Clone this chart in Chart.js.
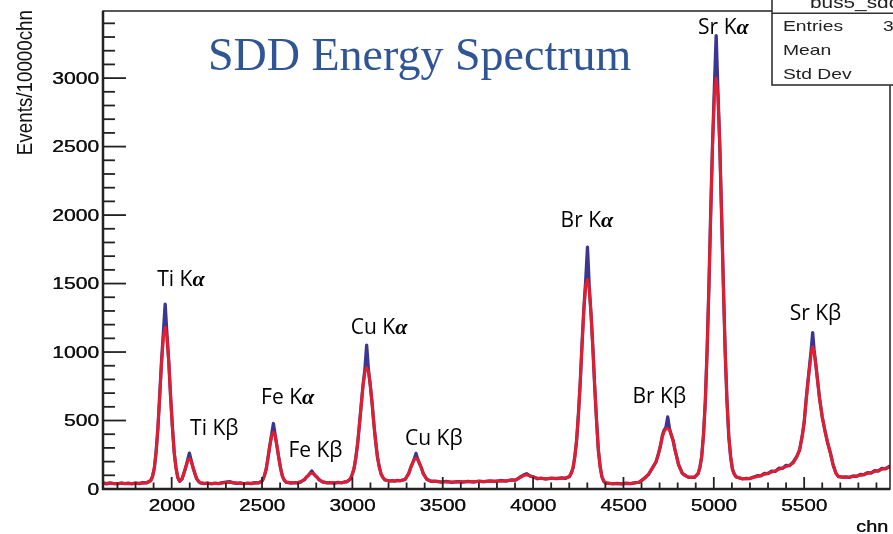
<!DOCTYPE html>
<html>
<head>
<meta charset="utf-8">
<script src="https://cdn.jsdelivr.net/npm/chart.js"></script>
<style>
  html, body { margin: 0; padding: 0; background: #fff; }
  #wrap { width: 893px; height: 534px; }
</style>
</head>
<body>
<div id="wrap"><canvas id="spectrum" width="893" height="534"></canvas></div>
<script>
// ========== DATA ==========
// channel positions (bins, denser around the peaks)
const chn = [
  1620, 1640, 1660, 1680, 1700, 1720, 1740, 1760, 1780, 1800, 1820, 1840, 1860, 1874,
  1884, 1894, 1904, 1914, 1924, 1934, 1944, 1954, 1964, 1974, 1984, 1994, 2004, 2014, 2024, 2034, 2044,
  2058, 2068, 2078, 2088, 2098, 2108, 2118, 2128, 2138, 2148, 2158,
  2180, 2200, 2220, 2240, 2260, 2280, 2300, 2320, 2340, 2360, 2380, 2400, 2420, 2440, 2460, 2480,
  2493, 2503, 2513, 2523, 2533, 2543, 2553, 2563, 2573, 2583, 2593, 2603, 2613, 2623, 2633, 2645, 2660, 2680, 2695,
  2705, 2715, 2725, 2735, 2745, 2755, 2765, 2775, 2785, 2795, 2805, 2815, 2825, 2835, 2845,
  2860, 2880, 2900, 2920, 2940, 2955, 2968,
  2979, 2989, 2999, 3009, 3019, 3029, 3039, 3049, 3059, 3069, 3079, 3089, 3099, 3109, 3119, 3129, 3139, 3149, 3159, 3169, 3179, 3189,
  3205, 3220, 3235, 3250, 3265,
  3282, 3292, 3302, 3312, 3322, 3332, 3342, 3352, 3362, 3372, 3382, 3392, 3402, 3412, 3422, 3435,
  3460, 3490, 3520, 3550, 3580, 3610, 3640, 3670, 3700, 3730, 3760, 3790, 3820, 3850, 3880,
  3904, 3924, 3944, 3964, 3984, 4004, 4024, 4044, 4070, 4100, 4130, 4160, 4180,
  4191, 4201, 4211, 4221, 4231, 4241, 4251, 4261, 4271, 4281, 4291, 4301, 4311, 4321, 4331, 4341, 4351, 4361, 4371, 4381, 4391, 4401,
  4415, 4440, 4465, 4490, 4515, 4540, 4565, 4585,
  4600, 4620, 4640, 4660, 4680, 4695, 4705, 4715, 4725, 4735, 4745, 4755, 4765, 4775, 4785, 4795, 4805, 4815, 4825, 4840, 4860, 4880, 4893,
  4903, 4913, 4923, 4933, 4943, 4953, 4963, 4973, 4983, 4993, 5003, 5013, 5023, 5033, 5043, 5053, 5063, 5073, 5083, 5093, 5103, 5113, 5123,
  5140, 5160, 5180, 5200, 5220, 5240, 5260, 5280, 5300, 5320, 5340, 5360, 5380, 5400, 5420, 5440, 5460, 5475,
  5490, 5500, 5510, 5520, 5530, 5540, 5547, 5555, 5565, 5575, 5585, 5600, 5615, 5630, 5645, 5660, 5675, 5690,
  5710, 5730, 5750, 5770, 5790, 5810, 5830, 5850, 5870, 5890, 5910, 5930, 5950, 5975
];

// measured histogram (blue)
const counts = [
  44, 38, 45, 40, 37, 44, 39, 42, 38, 45, 40, 46, 44, 55,
  62, 92, 150, 275, 445, 690, 935, 1140, 1350, 1130, 930, 675, 455, 265, 155, 82, 56,
  74, 118, 158, 210, 262, 208, 156, 116, 75, 58, 44,
  40, 44, 37, 43, 39, 46, 50, 54, 45, 41, 45, 38, 43, 40, 46, 44,
  53, 62, 97, 144, 228, 318, 395, 478, 390, 308, 226, 150, 92, 66, 49, 48, 43, 47, 44,
  50, 51, 62, 68, 87, 97, 114, 132, 113, 96, 86, 68, 61, 51, 50,
  44, 47, 43, 48, 45, 51, 52,
  63, 73, 106, 147, 230, 330, 472, 615, 760, 870, 1050, 870, 758, 630, 472, 345, 230, 161, 108, 85, 67, 64,
  58, 62, 58, 63, 60,
  67, 70, 93, 113, 154, 185, 218, 260, 216, 183, 154, 113, 92, 70, 65, 56,
  57, 50, 55, 49, 54, 51, 56, 51, 57, 53, 59, 55, 62, 58, 66,
  65, 84, 100, 112, 94, 88, 75, 79, 73, 80, 76, 82, 78,
  86, 90, 116, 152, 238, 356, 552, 780, 1065, 1320, 1520, 1766, 1470, 1270, 1028, 745, 505, 285, 165, 88, 58, 43,
  43, 38, 41, 37, 42, 39, 46, 48,
  60, 84, 108, 155, 196, 265, 316, 388, 430, 450, 526, 440, 392, 355, 286, 234, 176, 148, 115, 101, 85, 87, 84,
  100, 111, 158, 236, 398, 638, 1018, 1480, 2030, 2520, 2920, 3310, 2900, 2512, 2005, 1490, 998, 642, 380, 238, 145, 110, 88,
  82, 73, 78, 76, 88, 97, 96, 114, 112, 131, 128, 152, 150, 173, 170, 198, 240, 285,
  395, 485, 640, 775, 900, 1030, 1142, 1015, 905, 785, 665, 525, 425, 335, 265, 176, 118, 90,
  86, 89, 84, 95, 92, 106, 104, 119, 116, 134, 131, 150, 147, 168
];

// fitted curve (red)
const fitCounts = [
  42, 42, 41, 41, 41, 40, 40, 40, 41, 41, 42, 43, 46, 52,
  59, 90, 155, 271, 450, 682, 924, 1109, 1180, 1109, 924, 682, 450, 271, 150, 85, 58,
  77, 113, 161, 204, 222, 204, 161, 113, 77, 56, 46,
  42, 41, 40, 40, 41, 43, 48, 50, 48, 44, 42, 41, 41, 42, 43, 46,
  51, 65, 94, 147, 224, 313, 386, 414, 386, 313, 224, 147, 94, 65, 51, 46, 45, 45, 46,
  48, 53, 60, 70, 84, 99, 111, 115, 111, 99, 84, 70, 60, 53, 48,
  46, 45, 45, 46, 47, 49, 54,
  61, 75, 103, 150, 226, 333, 468, 617, 753, 851, 886, 859, 761, 625, 476, 341, 234, 158, 111, 83, 69, 62,
  60, 59, 60, 61, 62,
  65, 72, 90, 116, 151, 187, 214, 225, 214, 187, 151, 116, 90, 72, 63, 58,
  55, 53, 52, 52, 52, 53, 53, 54, 54, 55, 56, 57, 59, 61, 63,
  68, 80, 96, 104, 96, 85, 78, 76, 76, 77, 78, 79, 80,
  84, 93, 113, 156, 233, 360, 547, 787, 1056, 1308, 1489, 1530, 1453, 1272, 1020, 751, 500, 290, 160, 90, 56, 45,
  41, 40, 39, 39, 40, 41, 43, 50,
  63, 80, 112, 150, 200, 260, 320, 380, 420, 438, 443, 430, 395, 350, 290, 230, 180, 145, 118, 98, 88, 84, 87,
  97, 114, 155, 240, 392, 643, 1011, 1487, 2018, 2514, 2874, 3000, 2867, 2507, 2011, 1480, 1004, 636, 385, 233, 148, 107, 90,
  80, 76, 75, 79, 84, 91, 99, 107, 115, 123, 132, 143, 154, 164, 175, 190, 235, 290,
  390, 490, 630, 770, 890, 1000, 1037, 1000, 900, 780, 660, 530, 425, 340, 260, 180, 115, 92,
  88, 86, 88, 91, 95, 101, 107, 113, 120, 127, 135, 143, 151, 160
];

// axis ticks
const xMajorTicks = [2000, 2500, 3000, 3500, 4000, 4500, 5000, 5500];
const xMinorTicks = [1700, 1800, 1900, 2100, 2200, 2300, 2400, 2600, 2700, 2800, 2900, 3100, 3200, 3300, 3400,
  3600, 3700, 3800, 3900, 4100, 4200, 4300, 4400, 4600, 4700, 4800, 4900, 5100, 5200, 5300, 5400, 5600, 5700, 5800, 5900];
const yMajorTicks = [0, 500, 1000, 1500, 2000, 2500, 3000];
const yMinorTicks = [100, 200, 300, 400, 600, 700, 800, 900, 1100, 1200, 1300, 1400, 1600, 1700, 1800, 1900,
  2100, 2200, 2300, 2400, 2600, 2700, 2800, 2900, 3100, 3200, 3300, 3400];

// peak annotations (anchored in chn / counts)
const peakLabels = ["Ti Kα", "Ti Kβ", "Fe Kα", "Fe Kβ", "Cu Kα", "Cu Kβ", "Br Kα", "Br Kβ", "Sr Kα", "Sr Kβ"];
const labelChn = [1920, 2102, 2495, 2646, 2991, 3291, 4152, 4550, 4913, 5420];
const labelCounts = [1479, 392, 618, 234, 1134, 319, 1912, 628, 3319, 1231];

// ========== HELPERS ==========
function stretchText(ctx, str, x, y, align, sx) {
  ctx.save();
  ctx.translate(x, y);
  ctx.scale(sx, 1);
  ctx.textAlign = align;
  ctx.fillText(str, 0, 0);
  ctx.restore();
}

function line(ctx, x1, y1, x2, y2) {
  ctx.beginPath();
  ctx.moveTo(x1, y1);
  ctx.lineTo(x2, y2);
  ctx.stroke();
}

// ROOT-style frame, inward ticks, labels, stats box, title and peak names
const rootFrame = {
  id: "rootFrame",
  afterDraw(chart) {
    const { ctx, chartArea: a, scales } = chart;
    const x = scales.x, y = scales.y;
    ctx.save();
    ctx.strokeStyle = "#222";
    ctx.fillStyle = "#111";

    // frame
    ctx.lineWidth = 1.5;
    ctx.strokeRect(a.left, a.top, a.right - a.left, a.bottom - a.top);
    ctx.lineWidth = 2.5;
    line(ctx, a.left, a.top, a.left, a.bottom + 1);
    line(ctx, a.left - 1, a.bottom, a.right, a.bottom);

    // y ticks
    ctx.lineWidth = 1.8;
    yMinorTicks.forEach((v) => {
      const py = y.getPixelForValue(v);
      line(ctx, a.left, py, a.left + 12, py);
    });
    ctx.font = '16.5px "Liberation Sans"';
    yMajorTicks.forEach((v) => {
      const py = y.getPixelForValue(v);
      line(ctx, a.left, py, a.left + 23, py);
      stretchText(ctx, String(v), a.left - 4, py + 5.8, "right", 1.28);
      stretchText(ctx, String(v), a.left - 3.6, py + 5.8, "right", 1.28);
    });

    // x ticks
    xMinorTicks.forEach((v) => {
      const px = x.getPixelForValue(v);
      line(ctx, px, a.bottom, px, a.bottom - 6.5);
    });
    xMajorTicks.forEach((v) => {
      const px = x.getPixelForValue(v);
      line(ctx, px, a.bottom, px, a.bottom - 12);
      stretchText(ctx, String(v), px, 510.9, "center", 1.26);
      stretchText(ctx, String(v), px + 0.4, 510.9, "center", 1.26);
    });

    // axis titles
    stretchText(ctx, "chn", 888, 531.5, "right", 1.2);
    stretchText(ctx, "chn", 888.4, 531.5, "right", 1.2);
    ctx.save();
    ctx.font = '18.8px "Liberation Sans"';
    ctx.translate(31.5, 10);
    ctx.rotate(-Math.PI / 2);
    ctx.scale(1, 1.2);
    ctx.textAlign = "right";
    ctx.fillText("Events/10000chn", 0, 0);
    ctx.restore();

    // stats box
    ctx.fillStyle = "#fff";
    ctx.fillRect(772, -2, 130, 87);
    ctx.lineWidth = 1.6;
    ctx.strokeStyle = "#333";
    ctx.strokeRect(772, -2, 130, 87);
    line(ctx, 772, 13.3, 893, 13.3);
    ctx.fillStyle = "#222";
    ctx.font = '16px "Liberation Sans"';
    stretchText(ctx, "bus5_sdd", 810, 8, "left", 1.3);
    ctx.font = '14.5px "Liberation Sans"';
    stretchText(ctx, "Entries", 783, 30.5, "left", 1.33);
    stretchText(ctx, "Mean", 783, 54.5, "left", 1.33);
    stretchText(ctx, "Std Dev", 783, 79, "left", 1.33);
    stretchText(ctx, "3", 883, 30.5, "left", 1.33);

    // title
    ctx.fillStyle = "#2F5597";
    ctx.font = '46px "Liberation Serif"';
    ctx.textAlign = "left";
    ctx.fillText("SDD Energy Spectrum", 208, 70);

    // peak names
    ctx.fillStyle = "#000";
    peakLabels.forEach((name, i) => {
      const px = x.getPixelForValue(labelChn[i]);
      const py = y.getPixelForValue(labelCounts[i]);
      const greek = name.slice(-1);
      ctx.textAlign = "left";
      if (greek === "α") {
        const head = name.slice(0, -1);
        ctx.font = '21px "Open Sans"';
        ctx.fillText(head, px, py);
        const w = ctx.measureText(head).width;
        ctx.font = 'italic bold 22px "Liberation Serif"';
        ctx.fillText(greek, px + w, py);
      } else {
        ctx.font = '21px "Open Sans"';
        ctx.fillText(name, px, py);
      }
    });
    ctx.restore();
  },
};

// ========== CHART ==========
new Chart(document.getElementById("spectrum"), {
  type: "line",
  data: {
    datasets: [
      {
        label: "fit",
        data: chn.map((c, i) => ({ x: c, y: fitCounts[i] })),
        borderColor: "rgba(236,28,40,0.95)",
        borderWidth: 3,
        pointRadius: 0,
        tension: 0,
        borderJoinStyle: "round",
        order: 0,
      },
      {
        label: "data",
        data: chn.map((c, i) => ({ x: c, y: counts[i] })),
        borderColor: "#3a3692",
        borderWidth: 3.3,
        pointRadius: 0,
        tension: 0,
        borderJoinStyle: "round",
        order: 1,
      },
    ],
  },
  options: {
    responsive: false,
    devicePixelRatio: 1,
    animation: false,
    layout: { padding: { left: 103, right: 3, top: 11, bottom: 45 } },
    plugins: { legend: { display: false }, tooltip: { enabled: false } },
    scales: {
      x: { type: "linear", min: 1620, max: 5975, display: false },
      y: { type: "linear", min: 0, max: 3490, display: false },
    },
  },
  plugins: [rootFrame],
});
</script>
</body>
</html>
